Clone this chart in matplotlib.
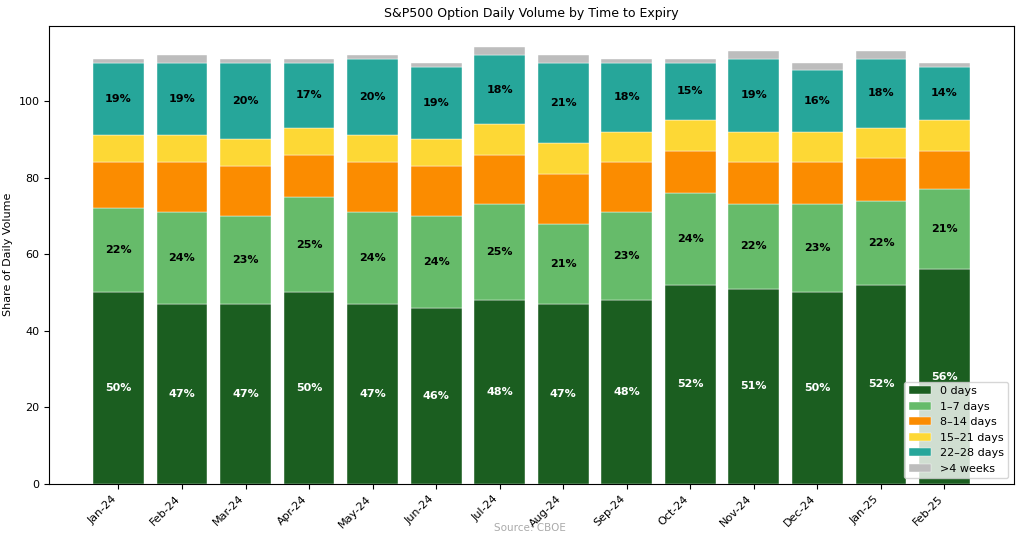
import numpy as np
import matplotlib.pyplot as plt

months = ["Jan-24", "Feb-24", "Mar-24", "Apr-24", "May-24", "Jun-24", "Jul-24",
          "Aug-24", "Sep-24", "Oct-24", "Nov-24", "Dec-24", "Jan-25", "Feb-25"]

d0 = [50, 47, 47, 50, 47, 46, 48, 47, 48, 52, 51, 50, 52, 56]
d1_7 = [22, 24, 23, 25, 24, 24, 25, 21, 23, 24, 22, 23, 22, 21]
d8_14 = [12, 13, 13, 11, 13, 13, 13, 13, 13, 11, 11, 11, 11, 10]
d15_21 = [7, 7, 7, 7, 7, 7, 8, 8, 8, 8, 8, 8, 8, 8]
d22_28 = [19, 19, 20, 17, 20, 19, 18, 21, 18, 15, 19, 16, 18, 14]
over4w = [1, 2, 1, 1, 1, 1, 2, 2, 1, 1, 2, 2, 2, 1]

series = [d0, d1_7, d8_14, d15_21, d22_28, over4w]
names = ["0 days", "1\u20137 days", "8\u201314 days", "15\u201321 days", "22\u201328 days", ">4 weeks"]
colors = ["#1b5e20", "#66bb6a", "#fb8c00", "#fdd835", "#26a69a", "#bdbdbd"]
labelled = {0: "white", 1: "black", 4: "black"}

fig, ax = plt.subplots(figsize=(10.24, 5.46), dpi=100)
x = np.arange(len(months))
bottom = np.zeros(len(months))
for i, (vals, name, col) in enumerate(zip(series, names, colors)):
    vals = np.array(vals, dtype=float)
    ax.bar(x, vals, 0.8, bottom=bottom, color=col, label=name,
           edgecolor="white", linewidth=0.3)
    if i in labelled:
        for xi, b, v in zip(x, bottom, vals):
            ax.text(xi, b + v / 2, f"{int(v)}%", ha="center", va="center",
                    fontsize=8, fontweight="bold", color=labelled[i])
    bottom += vals

ax.set_xticks(x)
ax.set_xticklabels(months, rotation=45, ha="right", fontsize=8)
ax.tick_params(axis="y", labelsize=8)
ax.set_ylabel("Share of Daily Volume", fontsize=8)
ax.set_title("S&P500 Option Daily Volume by Time to Expiry", fontsize=9)
ax.legend(loc="lower right", fontsize=8)
fig.text(0.518, 0.027, "Source: CBOE", ha="center", fontsize=7.5, color="#aaaaaa")

fig.subplots_adjust(left=0.048, right=0.990, top=0.953, bottom=0.114)
fig.savefig("out.png", dpi=100)
